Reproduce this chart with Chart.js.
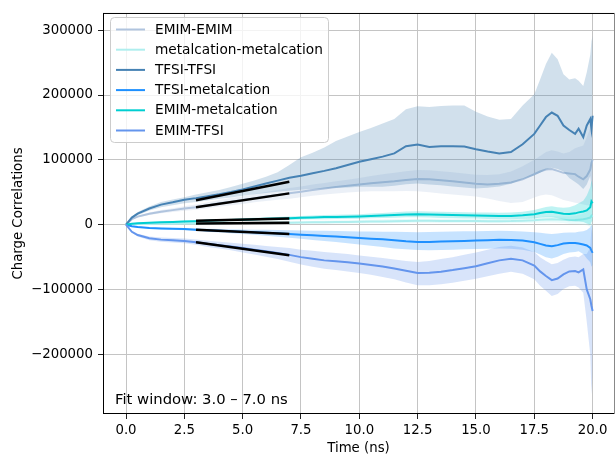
<!DOCTYPE html>
<html>
<head>
<meta charset="utf-8">
<script src="https://cdn.jsdelivr.net/npm/chart.js@4.4.0/dist/chart.umd.min.js"></script>
<style>
  html, body { margin: 0; padding: 0; background: #fff; overflow: hidden; }
  canvas { display: block; }
</style>
</head>
<body>
<canvas id="chart" width="615" height="457"></canvas>
<script>
// Time axis (ns), shared by every series
const timeNs = [0, 0.25, 0.5, 1, 1.5, 2, 2.5, 3, 3.5, 4, 4.5, 5, 5.5, 6, 6.5, 7, 7.5, 8, 8.5, 9, 9.5, 10,
  10.5, 11, 11.5, 12, 12.5, 13, 13.5, 14, 14.5, 15, 15.5, 16, 16.5, 17, 17.5, 17.75, 18, 18.25, 18.5, 18.75,
  19, 19.25, 19.4, 19.6, 19.75, 19.9, 19.95, 20];

const seriesNames = ['EMIM-EMIM', 'metalcation-metalcation', 'TFSI-TFSI', 'TFSI-metalcation', 'EMIM-metalcation', 'EMIM-TFSI'];
const seriesColors = ['#b0c4de', '#afeeee', '#4682b4', '#1e90ff', '#00ced1', '#6495ed'];

// EMIM-EMIM: mean and ±std envelope
const emimEmimMean = [0, 8500, 12500, 17000, 20000, 22500, 25000, 27000, 30000, 33000,
  35500, 38000, 41000, 43500, 46000, 48500, 51000, 53500, 56000, 58000,
  60000, 62000, 64000, 65500, 67000, 69000, 70500, 70000, 68500, 67000,
  65000, 63000, 62000, 63000, 65000, 70000, 78000, 82000, 85000, 86000,
  83000, 80000, 79000, 78000, 74000, 70000, 75000, 85000, 95000, 100000];
const emimEmimUpper = [0, 9500, 14000, 19000, 22500, 25500, 28500, 31000, 34500, 38000,
  41000, 44000, 47500, 50500, 53500, 56500, 59000, 62000, 64500, 67000,
  69500, 72000, 75000, 78000, 80000, 82500, 84500, 84000, 82500, 81000,
  79000, 77000, 76500, 78000, 82000, 90000, 100000, 106000, 112000, 115000,
  113000, 110000, 112000, 118000, 120000, 122000, 135000, 150000, 160000, 155000];
const emimEmimLower = [0, 7500, 11000, 15000, 17500, 19500, 21500, 23000, 25500, 28000,
  30000, 32000, 34500, 36500, 38500, 40000, 42500, 44500, 46500, 48000,
  49500, 51000, 51500, 51500, 51500, 52000, 51500, 50000, 48000, 46500,
  45000, 43500, 40500, 36500, 33500, 35000, 42000, 45000, 46500, 45500,
  42000, 38000, 36000, 34000, 33000, 31000, 30000, 30000, 30000, 30000];

// metalcation-metalcation
const metalMetalMean = [0, 600, 900, 1200, 1400, 1600, 1800, 2000, 2200, 2300,
  2500, 2600, 2800, 2900, 3000, 3200, 3400, 3600, 3800, 4000,
  4200, 4500, 4800, 5100, 5400, 5800, 6000, 6000, 5900, 5800,
  5700, 5600, 5500, 5400, 5600, 6200, 7000, 7600, 8200, 8500,
  8000, 7500, 7000, 7200, 7800, 8500, 9500, 11000, 14000, 12000];
const metalMetalUpper = [0, 900, 1300, 1800, 2100, 2400, 2700, 3000, 3300, 3600,
  3900, 4100, 4400, 4700, 4900, 5200, 5500, 5800, 6100, 6400,
  6700, 7100, 7500, 7900, 8300, 8800, 9100, 9100, 9000, 8900,
  8800, 8700, 8600, 8500, 8800, 9800, 11000, 12000, 13000, 13500,
  13000, 12500, 12500, 13500, 15000, 17000, 20000, 25000, 32000, 30000];
const metalMetalLower = [0, 300, 500, 600, 700, 800, 900, 1000, 1100, 1000,
  1100, 1100, 1200, 1100, 1100, 1200, 1300, 1400, 1500, 1600,
  1700, 1900, 2100, 2300, 2500, 2800, 2900, 2900, 2800, 2700,
  2600, 2500, 2400, 2300, 2400, 2600, 3000, 3200, 3400, 3500,
  3000, 2500, 1500, 900, 600, 0, -1000, -3000, -4000, -6000];

// TFSI-TFSI
const tfsiTfsiMean = [0, 11000, 17000, 25000, 31000, 34500, 38500, 41000, 44000, 47000,
  50500, 54500, 59000, 63500, 68000, 72500, 75500, 79500, 83000, 87000,
  92000, 97000, 101000, 105000, 110000, 121000, 123500, 120000, 121000, 121000,
  120500, 116500, 113000, 110000, 112000, 124000, 140000, 153000, 166000, 173000,
  168000, 153000, 146000, 140000, 148000, 135000, 153000, 163000, 148000, 168000];
const tfsiTfsiUpper = [0, 12500, 19500, 28000, 35000, 39000, 42500, 46500, 50000, 53500,
  58000, 63000, 68000, 74000, 81000, 92000, 104000, 111000, 119000, 129000,
  136000, 143000, 149000, 156000, 163000, 178000, 182500, 181500, 183000, 184000,
  184000, 174000, 167000, 162000, 163000, 184000, 201000, 224000, 248000, 265000,
  255000, 232000, 224000, 226000, 222000, 214000, 235000, 262000, 283000, 291000];
const tfsiTfsiLower = [0, 9500, 14500, 22000, 27000, 30000, 33000, 35000, 37500, 40000,
  42000, 44500, 47000, 49000, 51000, 52500, 54000, 55000, 56000, 57000,
  57500, 58500, 58500, 58500, 60000, 62500, 63500, 62000, 61000, 59000,
  57500, 56000, 57000, 59000, 63000, 70000, 76000, 80000, 85000, 88000,
  86000, 82000, 72000, 66000, 62000, 55000, 62000, 75000, 60000, 50000];

// TFSI-metalcation
const tfsiMetalMean = [0, -2500, -3600, -5000, -5800, -6300, -6800, -7800, -8500, -9300,
  -10000, -10800, -11600, -12500, -13300, -14300, -15300, -16300, -17300, -18300,
  -19200, -20400, -21500, -22500, -24000, -25500, -26500, -26500, -26000, -25500,
  -25000, -24500, -24000, -23300, -23500, -24500, -27000, -29500, -32000, -33200,
  -31500, -29100, -28100, -28100, -29000, -30600, -32000, -35700, -40000, -43400];
const tfsiMetalUpper = [0, -2000, -2900, -4000, -4500, -4900, -5200, -5800, -6200, -6600,
  -7000, -7300, -7600, -7900, -8200, -8500, -8900, -9200, -9500, -9800,
  -10000, -10300, -10500, -10800, -11000, -11200, -11500, -11200, -10800, -10500,
  -10200, -10000, -9800, -9500, -9800, -10500, -11500, -12500, -13500, -14300,
  -13500, -12500, -12200, -12000, -11000, -10200, -8000, -4000, 0, -5000];
const tfsiMetalLower = [0, -3000, -4300, -6000, -7100, -7700, -8400, -9800, -10800, -12000,
  -13000, -14300, -15600, -17100, -18400, -20100, -21700, -23400, -25100, -26800,
  -28400, -30500, -32500, -34200, -36500, -38000, -39000, -39500, -39000, -38500,
  -38000, -37500, -37000, -36500, -37000, -38500, -42000, -46000, -50000, -52000,
  -49500, -45000, -43000, -42000, -41000, -45000, -52000, -58000, -65000, -62000];

// EMIM-metalcation
const emimMetalMean = [0, 1500, 2300, 3200, 3800, 4300, 4900, 5500, 6200, 6800,
  7300, 7800, 8400, 9000, 9500, 10000, 10800, 11200, 11700, 12000,
  12400, 12800, 13500, 14200, 15000, 15800, 16200, 15800, 15200, 14800,
  14400, 14200, 13800, 13300, 13500, 14500, 16000, 18000, 19500, 20000,
  18500, 17000, 16500, 17500, 19000, 20500, 22000, 27000, 36000, 33000];
const emimMetalUpper = [0, 2000, 3100, 4200, 5000, 5600, 6300, 7000, 7800, 8600,
  9200, 9800, 10600, 11300, 12000, 12600, 13500, 14100, 14800, 15200,
  15800, 16300, 17200, 18200, 19200, 20200, 20800, 20500, 20000, 19500,
  19200, 19000, 18700, 18300, 18700, 20000, 22500, 25000, 27500, 28500,
  27000, 26000, 27000, 30000, 33000, 37000, 45000, 58000, 68000, 60000];
const emimMetalLower = [0, 1000, 1500, 2200, 2600, 3000, 3500, 4000, 4600, 5000,
  5400, 5800, 6200, 6700, 7000, 7400, 8100, 8300, 8600, 8800,
  9000, 9300, 9800, 10200, 10800, 11400, 11600, 11100, 10400, 10100,
  9600, 9400, 8900, 8300, 8300, 9000, 9500, 11000, 11500, 11500,
  10000, 8000, 6000, 5000, 5000, 4000, 2000, 0, 4000, 6000];

// EMIM-TFSI
const emimTfsiMean = [0, -11000, -16000, -21000, -23000, -24000, -25000, -27000, -29500, -31500,
  -33500, -36000, -38500, -41000, -43500, -46500, -50000, -52500, -55000, -56500,
  -58000, -60000, -62000, -64500, -67500, -71000, -74500, -74000, -72500, -70000,
  -67000, -64000, -59500, -55000, -52500, -55000, -63000, -72000, -79000, -85500,
  -83000, -76500, -72000, -71500, -73500, -69000, -100000, -115000, -125000, -133000];
const emimTfsiUpper = [0, -9500, -13800, -18000, -19800, -20600, -21400, -23000, -24800, -26300,
  -27700, -29300, -31000, -32700, -34300, -36000, -38500, -40000, -42000, -43500,
  -45000, -47500, -49500, -51500, -53500, -56000, -57500, -56000, -53000, -50000,
  -46500, -43000, -38500, -34500, -32500, -35000, -42000, -50000, -56000, -61000,
  -59000, -54000, -50000, -49000, -50000, -45000, -45000, -35000, -5000, -15000];
const emimTfsiLower = [0, -12500, -18200, -24000, -26200, -27400, -28600, -31000, -34200, -36700,
  -39300, -42700, -46000, -49300, -52700, -57000, -61500, -65000, -68000, -70000,
  -72000, -74500, -77000, -80500, -84000, -89000, -93500, -93500, -92000, -89500,
  -86500, -83500, -79500, -75500, -72500, -75500, -84000, -94000, -102000, -110000,
  -107000, -99000, -95000, -94000, -97000, -105000, -150000, -200000, -262000, -230000];

// Linear fits over the fit window, one per series (same order as seriesNames)
const fitWindow = [3.0, 7.0];
const fitStart = [27000, 1800, 37700, -7700, 6000, -27100];
const fitEnd = [48400, 3000, 66300, -14400, 9600, -47000];

// Axis ranges and ticks
const xRange = [-0.986, 20.917];
const yRange = [-291900, 326500];
const xTicks = [0, 2.5, 5, 7.5, 10, 12.5, 15, 17.5, 20];
const yTicks = [-200000, -100000, 0, 100000, 200000, 300000];

const meanArrays = [emimEmimMean, metalMetalMean, tfsiTfsiMean, tfsiMetalMean, emimMetalMean, emimTfsiMean];
const upperArrays = [emimEmimUpper, metalMetalUpper, tfsiTfsiUpper, tfsiMetalUpper, emimMetalUpper, emimTfsiUpper];
const lowerArrays = [emimEmimLower, metalMetalLower, tfsiTfsiLower, tfsiMetalLower, emimMetalLower, emimTfsiLower];

const FONT_FAMILY = '"DejaVu Sans", "Liberation Sans", sans-serif';
const AXIS_FONT_SIZE = 13.3;
const LEGEND_FONT_SIZE = 13.7;
const NOTE_FONT_SIZE = 14.8;
const BAND_ALPHA = 0.25;

function withAlpha(hex, a) {
  const n = parseInt(hex.slice(1), 16);
  return `rgba(${(n >> 16) & 255}, ${(n >> 8) & 255}, ${n & 255}, ${a})`;
}
const toPoints = arr => timeNs.map((t, i) => ({ x: t, y: arr[i] }));

// Build datasets: band (upper filled down to lower), then the mean line, series by series.
const datasets = [];
let drawOrder = 1000; // higher order is painted first
seriesNames.forEach((name, k) => {
  const lowerIndex = datasets.length + 1;
  datasets.push({
    label: name + ' upper', data: toPoints(upperArrays[k]),
    borderWidth: 0, borderColor: 'rgba(0,0,0,0)', pointRadius: 0,
    backgroundColor: withAlpha(seriesColors[k], BAND_ALPHA),
    fill: { target: lowerIndex }, order: drawOrder--
  });
  datasets.push({
    label: name + ' lower', data: toPoints(lowerArrays[k]),
    borderWidth: 0, borderColor: 'rgba(0,0,0,0)', pointRadius: 0,
    fill: false, order: drawOrder--
  });
  datasets.push({
    label: name, data: toPoints(meanArrays[k]),
    borderColor: seriesColors[k], borderWidth: 2, pointRadius: 0,
    fill: false, order: drawOrder--, isMean: true
  });
});
seriesNames.forEach((name, k) => {
  datasets.push({
    label: name + ' fit',
    data: [{ x: fitWindow[0], y: fitStart[k] }, { x: fitWindow[1], y: fitEnd[k] }],
    borderColor: '#000', borderWidth: 2.4, pointRadius: 0, fill: false,
    order: -10 - k
  });
});

// Plot frame on all four sides
const framePlugin = {
  id: 'frame',
  afterDatasetsDraw(chart) {
    const { ctx, chartArea: a } = chart;
    ctx.save();
    ctx.lineWidth = 1;
    ctx.strokeStyle = '#000';
    ctx.beginPath();
    ctx.moveTo(a.left + 0.5, a.top); ctx.lineTo(a.left + 0.5, a.bottom);
    ctx.moveTo(a.left, a.bottom - 0.5); ctx.lineTo(a.right + 1, a.bottom - 0.5);
    ctx.moveTo(a.left, a.top + 0.5); ctx.lineTo(a.right + 1, a.top + 0.5);
    ctx.stroke();
    ctx.strokeStyle = '#888';
    ctx.beginPath();
    ctx.moveTo(a.right + 0.5, a.top); ctx.lineTo(a.right + 0.5, a.bottom);
    ctx.stroke();
    ctx.restore();
  }
};

// Legend box in the upper-left corner and the fit-window note
const legendPlugin = {
  id: 'legendBox',
  afterDraw(chart) {
    const ctx = chart.ctx;
    const box = { x: 110.5, y: 17.5, w: 218, h: 125, r: 4 };
    ctx.save();
    ctx.beginPath();
    ctx.roundRect(box.x, box.y, box.w, box.h, box.r);
    ctx.fillStyle = 'rgba(255,255,255,0.8)';
    ctx.fill();
    ctx.lineWidth = 1;
    ctx.strokeStyle = '#cccccc';
    ctx.stroke();

    ctx.font = `${LEGEND_FONT_SIZE}px ${FONT_FAMILY}`;
    ctx.textBaseline = 'middle';
    ctx.textAlign = 'left';
    const means = chart.data.datasets.filter(d => d.isMean);
    means.forEach((d, i) => {
      const y = 29.5 + i * 20.2;
      ctx.strokeStyle = d.borderColor;
      ctx.lineWidth = 2;
      ctx.beginPath();
      ctx.moveTo(116, y);
      ctx.lineTo(145, y);
      ctx.stroke();
      ctx.fillStyle = '#000';
      ctx.fillText(d.label, 155, y + 0.5);
    });

    ctx.font = `${NOTE_FONT_SIZE}px ${FONT_FAMILY}`;
    ctx.textBaseline = 'alphabetic';
    ctx.fillStyle = '#000';
    ctx.fillText(`Fit window: ${fitWindow[0].toFixed(1)} \u2013 ${fitWindow[1].toFixed(1)} ns`, 115, 403.5);
    ctx.restore();
  }
};

const tickFont = { family: FONT_FAMILY, size: AXIS_FONT_SIZE };

new Chart(document.getElementById('chart'), {
  type: 'line',
  data: { datasets },
  options: {
    responsive: false,
    animation: false,
    devicePixelRatio: 1,
    layout: { padding: { left: 0, right: 1, top: 10, bottom: 0 } },
    plugins: {
      legend: { display: false },
      tooltip: { enabled: false },
      filler: { propagate: false }
    },
    elements: { line: { tension: 0 }, point: { radius: 0 } },
    scales: {
      x: {
        type: 'linear',
        min: xRange[0], max: xRange[1],
        afterBuildTicks: s => { s.ticks = xTicks.map(v => ({ value: v })); },
        afterFit: s => { s.height = 43; },
        border: { display: false },
        grid: { color: '#c4c4c4', lineWidth: 1, tickLength: 5, tickColor: '#222' },
        ticks: {
          font: tickFont, color: '#000', padding: 4, maxRotation: 0, autoSkip: false,
          callback: v => Number(v).toFixed(1)
        },
        title: { display: true, text: 'Time (ns)', font: tickFont, color: '#000', padding: { top: 0, bottom: 0.5 } }
      },
      y: {
        type: 'linear',
        min: yRange[0], max: yRange[1],
        afterBuildTicks: s => { s.ticks = yTicks.map(v => ({ value: v })); },
        afterFit: s => { s.width = 103; },
        border: { display: false },
        grid: { color: '#c4c4c4', lineWidth: 1, tickLength: 5, tickColor: '#222' },
        ticks: {
          font: tickFont, color: '#000', padding: 5, autoSkip: false,
          callback: v => (v < 0 ? '\u2212' + Math.abs(v) : String(v))
        },
        title: { display: true, text: 'Charge Correlations', font: tickFont, color: '#000', padding: { top: 10.5, bottom: 0 } }
      }
    }
  },
  plugins: [framePlugin, legendPlugin]
});
</script>
</body>
</html>
